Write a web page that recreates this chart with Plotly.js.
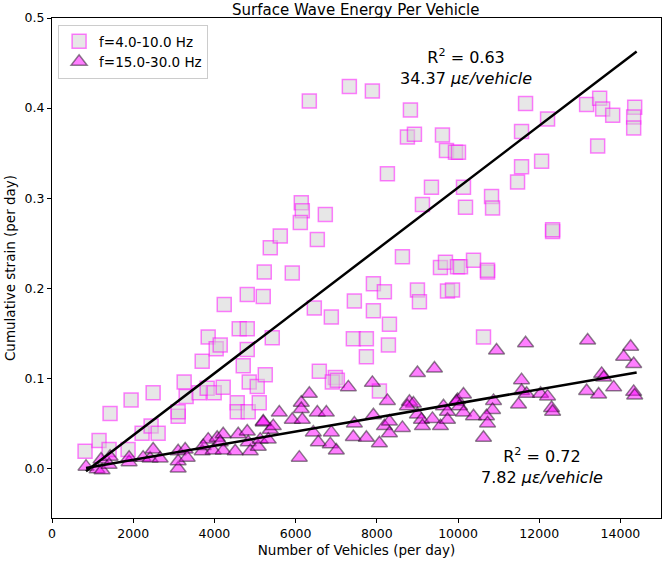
<!DOCTYPE html>
<html>
<head>
<meta charset="utf-8">
<script src="https://cdn.plot.ly/plotly-3.0.1.min.js"></script>
<style>html,body{margin:0;padding:0;background:#fff;}#chart{width:665px;height:567px;}</style>
</head>
<body>
<div id="chart"></div>
<script>
// f=4.0-10.0 Hz (squares)
const sqX = [814,1159,1430,1948,2491,1874,1406,2219,2441,2614,3107,3107,3255,3304,3699,3847,4044,4143,3625,3822,3995,4217,4242,4562,4562,4833,5105,4710,4809,4611,4809,4809,5203,5228,5376,4858,5055,5253,5425,
  6338,7324,7891,8828,8754,8927,9617,9716,9938,8261,9346,9124,6140,6165,6116,6732,5623,6535,5918,8631,9568,9691,9987,7916,8187,9001,9050,9741,7447,6461,6880,7916,8311,7422,7743,8286,7743,6584,6979,6905,7028,8064,
  11664,11565,12206,13168,13489,13563,13810,14352,14327,14327,13440,10012,12059,11565,11467,10135,10185,10826,10851,12330,12330,9864,10061,10382,10727,10727,10628];
const sqY = [0.019,0.031,0.061,0.076,0.084,0.021,0.021,0.039,0.047,0.039,0.058,0.063,0.096,0.080,0.119,0.146,0.133,0.137,0.084,0.089,0.084,0.090,0.182,0.073,0.063,0.063,0.073,0.114,0.132,0.155,0.155,0.193,0.191,0.218,0.245,0.096,0.091,0.104,0.145,
  0.408,0.424,0.419,0.398,0.368,0.371,0.370,0.353,0.351,0.327,0.312,0.293,0.295,0.286,0.273,0.282,0.258,0.254,0.217,0.235,0.223,0.229,0.224,0.205,0.196,0.198,0.185,0.197,0.186,0.178,0.168,0.175,0.160,0.144,0.144,0.137,0.124,0.108,0.101,0.096,0.098,0.086,
  0.405,0.374,0.388,0.404,0.411,0.399,0.392,0.401,0.390,0.378,0.358,0.351,0.341,0.335,0.318,0.312,0.290,0.302,0.289,0.263,0.265,0.198,0.224,0.231,0.218,0.220,0.146];

// f=15.0-30.0 Hz (triangles)
const triX = [838,1110,1233,1208,1430,1406,1899,1899,2244,2417,2491,2663,3107,3107,3107,3280,3329,3699,3847,3724,4069,4217,4143,3970,4217,4513,4587,4809,4833,4883,5080,5203,5376,5129,5326,
  6338,7299,7891,9001,9420,6140,6140,5598,5918,6165,6535,6757,5450,5203,6436,6880,6560,6855,7003,6091,7447,7422,7743,7916,8064,8261,8187,8311,8311,8631,8804,8902,8754,9001,9100,9124,9371,9568,9642,9741,9987,9741,
  10949,11664,13193,14253,14080,14327,13538,13588,13835,13168,13464,14327,14352,11565,11565,11689,12034,12206,11491,12305,12330,10135,9963,10037,10135,10382,10875,10851,10702,10727,10628];
const triY = [0.002,-0.001,-0.002,0.010,0.013,0.004,0.007,0.012,0.012,0.011,0.021,0.011,0.000,0.008,0.019,0.021,0.012,0.019,0.032,0.025,0.034,0.038,0.029,0.020,0.020,0.019,0.038,0.041,0.029,0.019,0.024,0.051,0.043,0.032,0.032,
  0.083,0.090,0.095,0.106,0.111,0.073,0.066,0.062,0.054,0.054,0.062,0.062,0.047,0.052,0.040,0.040,0.029,0.027,0.020,0.012,0.050,0.035,0.034,0.059,0.028,0.075,0.047,0.052,0.039,0.045,0.074,0.072,0.069,0.060,0.054,0.047,0.055,0.047,0.069,0.063,0.076,0.054,
  0.131,0.139,0.142,0.135,0.124,0.116,0.105,0.101,0.090,0.086,0.082,0.085,0.081,0.098,0.086,0.083,0.083,0.080,0.071,0.067,0.063,0.082,0.074,0.069,0.062,0.058,0.075,0.065,0.058,0.050,0.034];

// linear fits
const fitX = [838, 14400];
const fitHighSlope = 34.37e-6, fitHighIntercept = -0.032;
const fitLowSlope = 7.82e-6, fitLowIntercept = -0.006;
const fitHighY = fitX.map(x => fitHighSlope * x + fitHighIntercept);
const fitLowY = fitX.map(x => fitLowSlope * x + fitLowIntercept);

const labels = ['f=4.0-10.0 Hz', 'f=15.0-30.0 Hz'];
const annHigh = 'R<sup>2</sup> = 0.63<br>34.37 <i>με/vehicle</i>';
const annLow = 'R<sup>2</sup> = 0.72<br>7.82 <i>με/vehicle</i>';

const font = 'DejaVu Sans, sans-serif';

const traces = [
  {x: sqX, y: sqY, type: 'scatter', mode: 'markers', name: labels[0],
   marker: {symbol: 'square', size: 14, color: 'rgba(211,211,211,0.55)', line: {color: 'rgba(255,0,255,0.5)', width: 1.5}}},
  {x: triX, y: triY, type: 'scatter', mode: 'markers', name: labels[1],
   marker: {symbol: 'triangle-up', size: 14, color: 'rgba(255,0,255,0.5)', line: {color: 'rgba(0,0,0,0.45)', width: 1.5}}},
  {x: fitX, y: fitHighY, type: 'scatter', mode: 'lines', showlegend: false, line: {color: 'black', width: 2.5}},
  {x: fitX, y: fitLowY, type: 'scatter', mode: 'lines', showlegend: false, line: {color: 'black', width: 2.5}}
];

const layout = {
  width: 665, height: 567,
  margin: {l: 52, r: 4, t: 18, b: 49},
  paper_bgcolor: 'white', plot_bgcolor: 'white',
  font: {family: font, size: 12.5, color: 'black'},
  title: {text: 'Surface Wave Energy Per Vehicle', font: {family: font, size: 15, color: 'black'}, x: 0.535, xanchor: 'center', y: 0.982, yanchor: 'middle'},
  xaxis: {range: [0, 15000], dtick: 2000, tick0: 0, tickformat: 'd', showgrid: false, zeroline: false,
    showline: true, linecolor: 'black', linewidth: 1, mirror: true, ticks: 'outside', ticklen: 4, tickcolor: 'black',
    tickfont: {family: font, size: 12.5}, title: {text: 'Number of Vehicles (per day)', font: {family: font, size: 13.5}, standoff: 5}},
  yaxis: {range: [-0.055, 0.5], dtick: 0.1, tick0: 0, tickformat: '.1f', showgrid: false, zeroline: false,
    showline: true, linecolor: 'black', linewidth: 1, mirror: true, ticks: 'outside', ticklen: 4, tickcolor: 'black',
    tickfont: {family: font, size: 12.5}, title: {text: 'Cumulative strain (per day)', font: {family: font, size: 13.5}, standoff: 5}},
  legend: {x: 0.01, y: 0.986, xanchor: 'left', yanchor: 'top', bgcolor: 'rgba(255,255,255,0.8)', bordercolor: '#cccccc', borderwidth: 1,
    font: {family: font, size: 13.5}, tracegroupgap: 0, itemwidth: 30},
  annotations: [
    {x: 10200, y: 0.446, xref: 'x', yref: 'y', text: annHigh, showarrow: false, font: {family: font, size: 16, color: 'black'}, align: 'center'},
    {x: 12080, y: 0.003, xref: 'x', yref: 'y', text: annLow, showarrow: false, font: {family: font, size: 16, color: 'black'}, align: 'center'}
  ],
  showlegend: true
};

Plotly.newPlot('chart', traces, layout, {displayModeBar: false, staticPlot: true});
</script>
</body>
</html>
